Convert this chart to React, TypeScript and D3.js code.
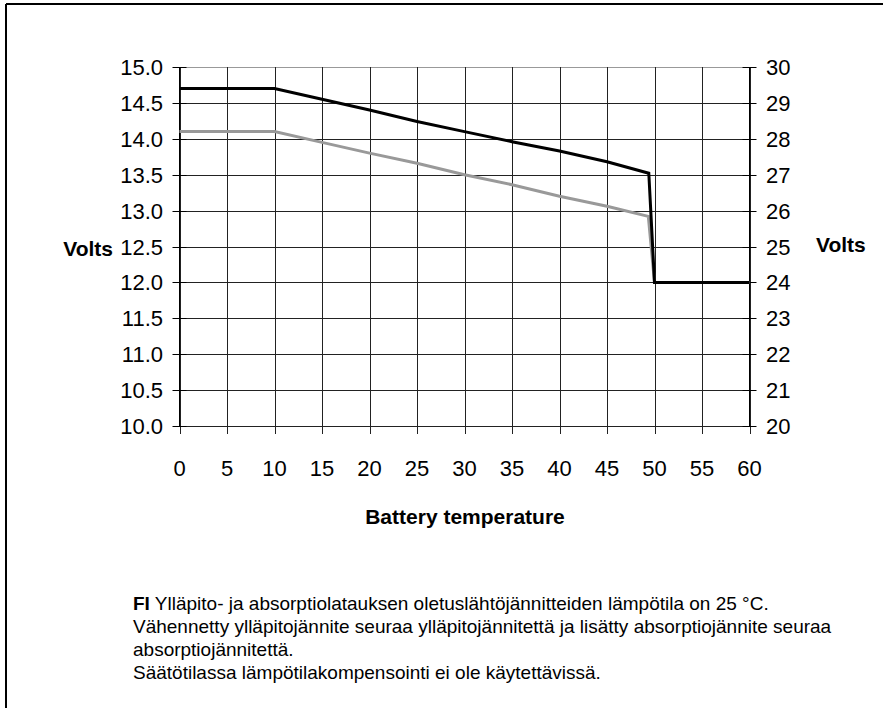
import * as d3 from "d3";

// battery temperature (°C) and output voltage (12 V scale on the left, 24 V on the right)
const absorptionTemp = [0, 10, 15, 20, 25, 30, 35, 40, 45, 49.4, 50, 60];
const absorptionVolts = [14.7, 14.7, 14.55, 14.4, 14.24, 14.1, 13.96, 13.83, 13.68, 13.52, 12.0, 12.0];

const floatTemp = [0, 10, 15, 20, 25, 30, 35, 40, 45, 49.35, 50, 60];
const floatVolts = [14.1, 14.1, 13.95, 13.8, 13.66, 13.5, 13.36, 13.2, 13.06, 12.92, 12.0, 12.0];

const xTicks = [0, 5, 10, 15, 20, 25, 30, 35, 40, 45, 50, 55, 60];
const leftTicks = [10, 10.5, 11, 11.5, 12, 12.5, 13, 13.5, 14, 14.5, 15];
const rightTicks = [20, 21, 22, 23, 24, 25, 26, 27, 28, 29, 30];

const noteLines = [
  "Vähennetty ylläpitojännite seuraa ylläpitojännitettä ja lisätty absorptiojännite seuraa",
  "absorptiojännitettä.",
  "Säätötilassa lämpötilakompensointi ei ole käytettävissä.",
];

const W = 883;
const H = 708;
const FONT = "'Liberation Sans', Arial, sans-serif";

export default function App() {
  const x = d3.scaleLinear().domain([0, 60]).range([179.5, 749.5]);
  const yL = d3.scaleLinear().domain([10, 15]).range([426, 67]);
  const yR = d3.scaleLinear().domain([20, 30]).range([426, 67]);

  const line = d3
    .line<[number, number]>()
    .x((d) => x(d[0]))
    .y((d) => yL(d[1]));

  const absorption = absorptionTemp.map((t, i) => [t, absorptionVolts[i]] as [number, number]);
  const float = floatTemp.map((t, i) => [t, floatVolts[i]] as [number, number]);

  const [x0, x1] = x.range();

  return (
    <svg
      width={W}
      height={H}
      style={{ position: "absolute", left: 0, top: 0, background: "#fff" }}
      fontFamily={FONT}
    >
      {/* frame */}
      <line x1={6} y1={4} x2={W} y2={4} stroke="#000" strokeWidth={2} />
      <line x1={6} y1={4} x2={6} y2={H} stroke="#000" strokeWidth={2} />

      {/* grid */}
      {leftTicks.map((v) => (
        <line
          key={"h" + v}
          x1={x0}
          x2={x1}
          y1={Math.round(yL(v)) + 0.5}
          y2={Math.round(yL(v)) + 0.5}
          stroke={v === 15 ? "#999" : "#222"}
        />
      ))}
      {xTicks.map((t) => (
        <line
          key={"v" + t}
          x1={Math.round(x(t)) + 0.5}
          x2={Math.round(x(t)) + 0.5}
          y1={yL(15)}
          y2={yL(10) + 8}
          stroke="#222"
        />
      ))}

      {/* axes */}
      <line x1={x0} x2={x0} y1={yL(15)} y2={yL(10)} stroke="#000" />
      <line x1={x1} x2={x1} y1={yL(15)} y2={yL(10)} stroke="#000" />
      {leftTicks.map((v) => (
        <g key={"lt" + v}>
          <line
            x1={x0 - 7}
            x2={x0 + 7}
            y1={Math.round(yL(v)) + 0.5}
            y2={Math.round(yL(v)) + 0.5}
            stroke="#000"
          />
          <text x={163} y={yL(v) + 8} textAnchor="end" fontSize={22}>
            {v.toFixed(1)}
          </text>
        </g>
      ))}
      {rightTicks.map((v) => (
        <g key={"rt" + v}>
          <line
            x1={x1 - 7}
            x2={x1 + 7}
            y1={Math.round(yR(v)) + 0.5}
            y2={Math.round(yR(v)) + 0.5}
            stroke="#000"
          />
          <text x={766} y={yR(v) + 8} fontSize={22}>
            {v}
          </text>
        </g>
      ))}
      {xTicks.map((t) => (
        <text key={"xt" + t} x={x(t)} y={476} textAnchor="middle" fontSize={22}>
          {t}
        </text>
      ))}

      {/* series */}
      <path d={line(float) ?? ""} fill="none" stroke="#999" strokeWidth={3} />
      <path d={line(absorption) ?? ""} fill="none" stroke="#000" strokeWidth={3} />

      {/* axis titles */}
      <text x={113} y={256} textAnchor="end" fontSize={21} fontWeight="bold">
        Volts
      </text>
      <text x={816} y={252} fontSize={21} fontWeight="bold">
        Volts
      </text>
      <text x={465} y={524} textAnchor="middle" fontSize={21} fontWeight="bold">
        Battery temperature
      </text>

      {/* note */}
      <text x={133} y={610} fontSize={19}>
        <tspan fontWeight="bold">FI</tspan> Ylläpito- ja absorptiolatauksen oletuslähtöjännitteiden lämpötila on 25 °C.
      </text>
      {noteLines.map((s, i) => (
        <text key={i} x={133} y={633 + i * 23} fontSize={19}>
          {s}
        </text>
      ))}
    </svg>
  );
}
